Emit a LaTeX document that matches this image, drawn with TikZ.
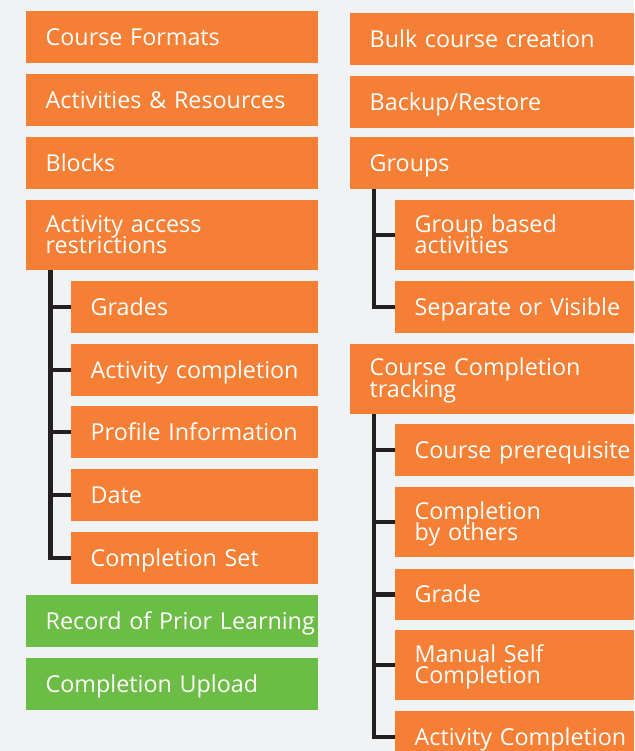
\documentclass[tikz,border=0pt]{standalone}
\usepackage{fontspec}
\setmainfont{Open Sans}
\definecolor{bg}{HTML}{F0F2F4}
\definecolor{orng}{HTML}{F47F35}
\definecolor{grn}{HTML}{6CBD45}
\definecolor{trunkc}{HTML}{231F20}
\begin{document}
\begin{tikzpicture}[x=1pt,y=-1pt,
  box/.style={fill=orng,text=white,anchor=north west,inner xsep=0pt,inner ysep=0pt,
    align=left,font=\fontsize{23.3}{21.5}\selectfont,minimum height=51.7pt,
    text height=17pt,text depth=0pt,
    execute at begin node={\leftskip=19.5pt\lineskiplimit=-30pt\lineskip=0pt\relax}},
  tall/.style={minimum height=69.7pt,text depth=23pt},
  mainL/.style={text width=292pt},
  subL/.style={text width=247pt},
  mainR/.style={text width=300pt},
  subR/.style={text width=260pt},
  green/.style={fill=grn},
  conn/.style={draw=trunkc,line width=4.6pt}]
\fill[bg] (0,0) rectangle (634,751);
\clip (0,0) rectangle (634,751);
% left column
\node[box,mainL] (cf) at (26,11) {Course Formats};
\node[box,mainL] (ar) at (26,74) {Activities \& Resources};
\node[box,mainL] (bl) at (26,137.3) {Blocks};
\node[box,mainL,tall] (aar) at (26,200) {Activity access\\restrictions};
\node[box,subL] (gr) at (71,281) {Grades};
\node[box,subL] (ac) at (71,344) {Activity completion};
\node[box,subL] (pi) at (71,406) {Profile Information};
\node[box,subL] (da) at (71,469) {Date};
\node[box,subL] (cs) at (71,532) {Completion Set};
\node[box,mainL,green] (rpl) at (26,595) {Record of Prior Learning};
\node[box,mainL,green] (cu) at (26,658) {Completion Upload};
% right column
\node[box,mainR] (bcc) at (350,13) {Bulk course creation};
\node[box,mainR] (br) at (350,76) {Backup/Restore};
\node[box,mainR] (grp) at (350,137) {Groups};
\node[box,subR,tall] (gba) at (395,200) {Group based\\activities};
\node[box,subR] (sov) at (395,281) {Separate or Visible};
\node[box,mainR,tall] (cct) at (350,343.7) {Course Completion\\tracking};
\node[box,subR] (cp) at (395,424) {Course prerequisite};
\node[box,subR,tall] (cbo) at (395,487) {Completion\\by others};
\node[box,subR] (grd) at (395,568.3) {Grade};
\node[box,subR,tall] (msc) at (395,630) {Manual Self\\Completion};
\node[box,subR] (acm) at (395,711) {Activity Completion};
% connectors
\coordinate (t1) at ([xshift=24.5pt]aar.south west);
\draw[conn] (t1) |- (cs.west);
\foreach \n in {gr,ac,pi,da} \draw[conn] (t1 |- \n.west) -- (\n.west);
\coordinate (t2) at ([xshift=24pt]grp.south west);
\draw[conn] (t2) |- (sov.west);
\draw[conn] (t2 |- gba.west) -- (gba.west);
\coordinate (t3) at ([xshift=24pt]cct.south west);
\draw[conn] (t3) |- (acm.west);
\foreach \n in {cp,cbo,grd,msc} \draw[conn] (t3 |- \n.west) -- (\n.west);
\end{tikzpicture}
\end{document}
